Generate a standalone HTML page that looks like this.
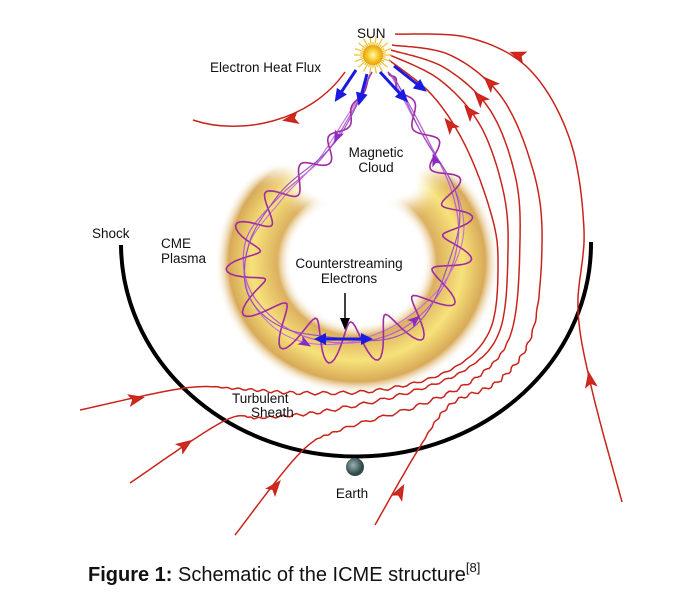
<!DOCTYPE html>
<html><head><meta charset="utf-8"><style>
html,body{margin:0;padding:0;background:#fff;}
svg{display:block;}
text{font-family:"Liberation Sans",Arial,sans-serif;}
</style></head><body>
<svg id="fig" width="692" height="616" viewBox="0 0 692 616" xmlns="http://www.w3.org/2000/svg">
<defs>
<radialGradient id="ringGrad" cx="357" cy="262" r="137" gradientUnits="userSpaceOnUse" gradientTransform="translate(357 262) scale(1.04 0.97) translate(-357 -262)">
<stop offset="0" stop-color="#fff" stop-opacity="0"/>
<stop offset="0.46" stop-color="#fff" stop-opacity="0"/>
<stop offset="0.56" stop-color="#dcb060"/>
<stop offset="0.74" stop-color="#f7e27a"/>
<stop offset="0.9" stop-color="#d8aa58"/>
<stop offset="1" stop-color="#fff" stop-opacity="0"/>
</radialGradient>
<filter id="blurM" x="-20%" y="-20%" width="140%" height="140%"><feGaussianBlur stdDeviation="6"/></filter>
<mask id="ringMask" maskUnits="userSpaceOnUse" x="150" y="80" width="420" height="360">
<g filter="url(#blurM)">
<rect x="150" y="80" width="420" height="360" fill="#fff"/>
<rect x="150" y="60" width="420" height="120" fill="#000"/>
<ellipse cx="360" cy="190" rx="72" ry="28" fill="#000"/>
</g>
</mask>
<radialGradient id="sunGrad"><stop offset="0" stop-color="#fff8c0"/><stop offset="0.5" stop-color="#f8d030"/><stop offset="1" stop-color="#e8a010"/></radialGradient>
<radialGradient id="earthGrad" cx="0.4" cy="0.4"><stop offset="0" stop-color="#9ab0b0"/><stop offset="1" stop-color="#2f4a4c"/></radialGradient>
</defs>

<ellipse cx="357" cy="262" rx="145" ry="135" fill="url(#ringGrad)" mask="url(#ringMask)"/>

<path d="M121,245 A235,213 0 0 0 591,242" fill="none" stroke="#000" stroke-width="4"/>

<g id="redLines" fill="none" stroke="#c8241c" stroke-width="1.5"></g>
<g id="helix" fill="none"></g>
<g id="arrows"></g>

<g id="sun"></g>

<circle cx="355" cy="467" r="9" fill="url(#earthGrad)"/>

<g font-size="13.5" fill="#111">
<text x="357" y="38">SUN</text>
<text x="210" y="72">Electron Heat Flux</text>
<text x="376" y="157" text-anchor="middle"><tspan x="376">Magnetic</tspan><tspan x="376" dy="15">Cloud</tspan></text>
<text x="92" y="238">Shock</text>
<text x="161" y="248"><tspan x="161">CME</tspan><tspan x="161" dy="15">Plasma</tspan></text>
<text x="349" y="268" text-anchor="middle"><tspan x="349">Counterstreaming</tspan><tspan x="349" dy="15">Electrons</tspan></text>
<text x="232" y="403"><tspan x="232">Turbulent</tspan><tspan x="251" dy="14">Sheath</tspan></text>
<text x="352" y="498" text-anchor="middle">Earth</text>
</g>

<line x1="345" y1="293" x2="345" y2="322" stroke="#000" stroke-width="1.5"/>
<path d="M340,318 L345,330 L350,318 Z" fill="#000"/>

<text x="88" y="581" font-size="20" fill="#111"><tspan font-weight="bold">Figure 1:</tspan> Schematic of the ICME structure<tspan font-size="13" dy="-9">[8]</tspan></text>
</svg>
<script>
const NS='http://www.w3.org/2000/svg';
function mk(tag,attrs,parent){const e=document.createElementNS(NS,tag);for(const k in attrs)e.setAttribute(k,attrs[k]);parent.appendChild(e);return e;}
function cr(pts,n){const out=[];for(let i=0;i<pts.length-1;i++){const p0=pts[Math.max(0,i-1)],p1=pts[i],p2=pts[i+1],p3=pts[Math.min(pts.length-1,i+2)];for(let j=0;j<n;j++){const t=j/n,t2=t*t,t3=t2*t;const f=(a,b,c,d)=>0.5*((2*b)+(-a+c)*t+(2*a-5*b+4*c-d)*t2+(-a+3*b-3*c+d)*t3);out.push([f(p0[0],p1[0],p2[0],p3[0]),f(p0[1],p1[1],p2[1],p3[1])]);}}out.push(pts[pts.length-1]);return out;}
function toD(p){return 'M'+p.map(q=>q[0].toFixed(1)+','+q[1].toFixed(1)).join(' L');}
function wav(p,from,to,amp,per){return p.map((q,i)=>{if(i<from||i>to||i==0||i==p.length-1)return q;const a=p[i-1],b=p[i+1];let dx=b[0]-a[0],dy=b[1]-a[1];const L=Math.hypot(dx,dy)||1;const w=amp*Math.sin(i*per)*Math.sin(Math.PI*(i-from)/(to-from));return [q[0]-dy/L*w,q[1]+dx/L*w];});}
const red=document.getElementById('redLines');
const lines=[
 [[395,34],[470,38],[530,70],[570,140],[584,230],[578,310],[592,390],[622,502]],
 [[392,45],[450,55],[500,95],[530,160],[542,230],[533,330],[500,380],[450,405],[418,450],[375,525]],
 [[391,50],[445,68],[490,110],[515,175],[520,240],[512,330],[480,375],[420,405],[340,430],[300,453],[235,535]],
 [[390,55],[440,80],[480,125],[503,190],[508,250],[500,330],[465,370],[400,395],[320,412],[260,418],[224,421],[130,483]],
 [[389,60],[432,95],[465,145],[490,210],[498,260],[490,330],[450,370],[380,390],[300,393],[240,389],[185,388],[80,410]]
];
lines.forEach((pts,k)=>{
 let p=cr(pts,20);
 if(k>0){p=wav(p,Math.floor(p.length*0.5),Math.floor(p.length*0.88),1.8,1.4);}
 const el=mk('path',{d:toD(p)},red);
 
 
});
const heads=[[[518,55],200],[[490,83],225],[[480,98],228],[[470,112],230],[[450,125],232],
 [[590,380],-100],[[400,492],-62],[[275,487],-50],[[185,445],-35],[[136,399],-12],[[291,119],170]];
heads.forEach((h,i)=>{const g=mk('path',{d:'M7,0 L-6,-5 L-3,0 L-6,5 Z',fill:'#d42a1e',transform:`translate(${h[0][0]},${h[0][1]}) rotate(${h[1]})`},red);
 
 });
{const el=mk('path',{d:'M193,120 C240,136 310,122 345,72'},red);
 
 }
const axisPts=[[372,72],[352,112],[322,158],[278,198],[246,240],[250,290],[290,330],[345,343],[400,330],[440,292],[458,240],[452,192],[428,140],[400,88],[388,72]];
const ax=cr(axisPts,24);
const hx=document.getElementById('helix');
function helix(phase,base,ampMax,turns,color,w,name){
 const n=ax.length;const out=[];
 for(let i=0;i<n;i++){const a=ax[Math.max(0,i-1)],b=ax[Math.min(n-1,i+1)];const dx=b[0]-a[0],dy=b[1]-a[1],L=Math.hypot(dx,dy)||1;
  const s=i/(n-1);const env=Math.min(1,s*8,(1-s)*8)*(base+(ampMax-base)*Math.pow(Math.sin(Math.PI*s),1.5));const o=env*Math.sin(2*Math.PI*turns*s+phase);
  out.push([ax[i][0]-dy/L*o,ax[i][1]+dx/L*o]);}
 const el=mk('path',{d:toD(out),stroke:color,'stroke-width':w},hx);
 
 
}
{const el=mk('path',{d:toD(ax),stroke:'#c060d0','stroke-width':1.3},hx);
 
 }
helix(0,3,7,3,'#c070e0',1.1,'flux-rope-inner');
helix(0.5,5,21,19,'#a02ca0',1.6,'flux-rope-helix');
helix(2.2,2,5,5,'#9050c0',1.1,'flux-rope-strand');
const arr=document.getElementById('arrows');
[[[337,137],115],[[305,343],30],[[415,320],-40],[[435,160],-110]].forEach(h=>{const g=mk('path',{d:'M7,0 L-6,-5 L-3,0 L-6,5 Z',fill:'#8a2cc0',transform:`translate(${h[0][0]},${h[0][1]}) rotate(${h[1]})`},arr);
 
 });
[[[356,70],[338,97]],[[367,74],[360,100]],[[380,72],[404,98]],[[394,66],[422,88]]].forEach(b=>{
 const ang=Math.atan2(b[1][1]-b[0][1],b[1][0]-b[0][0])*180/Math.PI;
 const l=mk('line',{x1:b[0][0],y1:b[0][1],x2:b[1][0],y2:b[1][1],stroke:'#1a1ae0','stroke-width':3},arr);
 
 
 mk('path',{d:'M6,0 L-7,-6 L-7,6 Z',fill:'#1a1ae0',transform:`translate(${b[1][0]},${b[1][1]}) rotate(${ang})`},arr);
});
{const l=mk('line',{x1:322,y1:339,x2:365,y2:339,stroke:'#1a1ae0','stroke-width':3},arr);
 
 
 mk('path',{d:'M314,339 L326,333 L326,345 Z',fill:'#1a1ae0'},arr);
 mk('path',{d:'M373,339 L361,333 L361,345 Z',fill:'#1a1ae0'},arr);}
const sun=document.getElementById('sun');
for(let i=0;i<36;i++){const a=i*10*Math.PI/180,r=(i%2?13:19);mk('line',{x1:373,y1:55,x2:373+r*Math.cos(a),y2:55+r*Math.sin(a),stroke:'#f0c030','stroke-width':1.2},sun);}
mk('circle',{cx:373,cy:55,r:10,fill:'url(#sunGrad)'},sun);
</script>
</body></html>
